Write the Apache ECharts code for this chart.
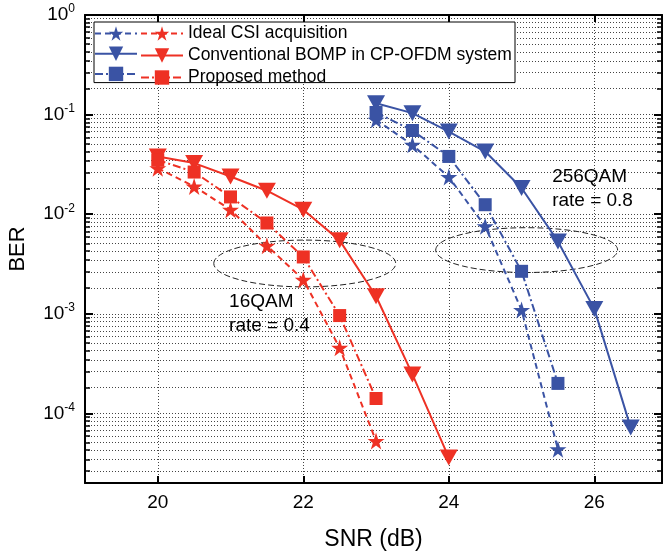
<!DOCTYPE html>
<html>
<head>
<meta charset="utf-8">
<script src="https://cdn.jsdelivr.net/npm/echarts@6/dist/echarts.min.js"></script>
<style>
html, body { margin: 0; padding: 0; background: #fff; }
#ber { width: 664px; height: 554px; }
</style>
</head>
<body>
<div id="ber"></div>
<script>
// SNR values (dB)
var snr16 = [20, 20.5, 21, 21.5, 22, 22.5, 23, 23.5, 24];
var snr256 = [23, 23.5, 24, 24.5, 25, 25.5, 26, 26.5];
var xTicks = [20, 22, 24, 26];
var berRange = [2e-5, 1];

// 16QAM, rate = 0.4
var ideal16 = [0.029, 0.019, 0.0111, 0.00483, 0.0022, 0.000455, 0.0000528];
var bomp16 = [0.038, 0.0326, 0.0239, 0.0172, 0.0111, 0.00546, 0.0015, 0.000246, 0.000036];
var prop16 = [0.035, 0.0265, 0.0149, 0.00816, 0.00372, 0.00096, 0.000141];

// 256QAM, rate = 0.8
var ideal256 = [0.0886, 0.0497, 0.0236, 0.00755, 0.00109, 0.0000436];
var bomp256 = [0.130, 0.1034, 0.0676, 0.0426, 0.0183, 0.00533, 0.00112, 0.000072];
var prop256 = [0.105, 0.0692, 0.038, 0.01245, 0.00267, 0.0002];

var names = ["Ideal CSI acquisition", "Conventional BOMP in CP-OFDM system", "Proposed method"];
var namesBlue = names.map(function (n) { return n + " (256QAM)"; });

var BLUE = "#3a53a4";
var RED = "#ee3124";
var FONT = "Liberation Sans";
var STAR = "path://M50 0 L61.23 34.55 L97.55 34.55 L68.16 55.9 L79.39 90.45 L50 69.1 L20.61 90.45 L31.84 55.9 L2.45 34.55 L38.77 34.55 Z";

var dotted = { color: "#444", width: 1, type: [1, 2] };

function pairs(xs, ys) {
  return ys.map(function (y, i) { return [xs[i], y]; });
}

function line(name, xs, ys, color, kind) {
  var s = {
    name: name,
    type: "line",
    data: pairs(xs, ys),
    lineStyle: { color: color, width: 2 },
    itemStyle: { color: color },
    emphasis: { disabled: true },
    animation: false,
    z: 3
  };
  if (kind == 0) {
    s.symbol = STAR; s.symbolSize = 17; s.lineStyle.type = [6, 4];
  } else if (kind == 1) {
    s.symbol = "triangle"; s.symbolRotate = 180; s.symbolSize = [18, 16]; s.lineStyle.type = "solid";
  } else {
    s.symbol = "rect"; s.symbolSize = 13; s.lineStyle.type = [8, 3, 2, 3];
  }
  return s;
}

function supLabel(v) {
  var l = Math.log10(v);
  var e = Math.round(l);
  if (Math.abs(l - e) > 1e-6) return "";
  return "{b|10}{s|" + e + "}";
}

var chart = echarts.init(document.getElementById("ber"));
var option = {
  animation: false,
  textStyle: { fontFamily: FONT },
  grid: { left: 85, right: 2, top: 15, bottom: 71, outerBoundsMode: "none" },
  legend: [
    {
      data: namesBlue,
      orient: "vertical",
      left: 94, top: 22,
      itemWidth: 42, itemHeight: 18, itemGap: 4,
      padding: [2.5, 377, 1.5, 0],
      formatter: function () { return ""; },
      backgroundColor: "#fff",
      borderColor: "#000", borderWidth: 1, borderRadius: 0,
      selectedMode: false,
      z: 5
    },
    {
      data: names,
      orient: "vertical",
      left: 140, top: 24.5,
      itemWidth: 42, itemHeight: 18, itemGap: 4,
      padding: 0,
      textStyle: { fontSize: 17.5, lineHeight: 18, color: "#000", fontFamily: FONT },
      selectedMode: false,
      z: 6
    }
  ],
  xAxis: [
    {
      type: "value", min: 19, max: 26.93, position: "bottom",
      name: "SNR (dB)", nameLocation: "middle", nameGap: 45,
      nameTextStyle: { fontSize: 23, color: "#000", fontFamily: FONT },
      axisLine: { lineStyle: { color: "#000", width: 2 } },
      axisTick: { inside: true, length: 7, lineStyle: { color: "#000", width: 2 }, customValues: xTicks.slice() },
      axisLabel: { fontSize: 19, color: "#000", margin: 10, customValues: xTicks.slice() },
      splitLine: { show: false }
    },
    {
      type: "value", min: 19, max: 26.93, position: "top",
      axisLine: { lineStyle: { color: "#000", width: 2 } },
      axisTick: { inside: true, length: 7, lineStyle: { color: "#000", width: 2 }, customValues: xTicks.slice() },
      axisLabel: { show: false },
      splitLine: { show: false }
    },
    {
      // hidden axis, only for the vertical grid: lines at 19..26, odd ones transparent
      type: "value", min: 19, max: 26.93, interval: 1, position: "bottom",
      axisLine: { show: false },
      axisTick: { show: false },
      axisLabel: { show: false },
      splitLine: {
        show: true, showMinLine: true,
        lineStyle: { color: ["rgba(0,0,0,0)", "#444"], width: 1, type: [1, 2] }
      }
    }
  ],
  yAxis: [
    {
      type: "log", logBase: 10, min: berRange[0], max: berRange[1], position: "left",
      name: "BER", nameLocation: "middle", nameGap: 56,
      nameTextStyle: { fontSize: 22, color: "#000", fontFamily: FONT },
      axisLine: { show: true, lineStyle: { color: "#000", width: 2 } },
      axisTick: { show: true, inside: true, length: 8, lineStyle: { color: "#000", width: 2 } },
      minorTick: { show: true, splitNumber: 11, length: 5, lineStyle: { color: "#000", width: 1.5 } },
      axisLabel: {
        formatter: supLabel, margin: 10, color: "#000",
        rich: {
          b: { fontSize: 19, color: "#000", fontFamily: FONT },
          s: { fontSize: 12, color: "#000", fontFamily: FONT, padding: [0, 0, 12, 0] }
        }
      },
      splitLine: { show: true, lineStyle: dotted },
      minorSplitLine: { show: true, lineStyle: dotted }
    },
    {
      type: "log", logBase: 10, min: berRange[0], max: berRange[1], position: "right",
      axisLine: { show: true, lineStyle: { color: "#000", width: 2 } },
      axisTick: { show: true, inside: true, length: 8, lineStyle: { color: "#000", width: 2 } },
      minorTick: { show: true, splitNumber: 11, length: 5, lineStyle: { color: "#000", width: 1.5 } },
      axisLabel: { show: false },
      splitLine: { show: false },
      minorSplitLine: { show: false }
    }
  ],
  series: [
    line(names[0], snr16, ideal16, RED, 0),
    line(names[1], snr16, bomp16, RED, 1),
    line(names[2], snr16, prop16, RED, 2),
    line(namesBlue[0], snr256, ideal256, BLUE, 0),
    line(namesBlue[1], snr256, bomp256, BLUE, 1),
    line(namesBlue[2], snr256, prop256, BLUE, 2)
  ]
};
chart.setOption(option);

// dashed ellipses and scheme labels, placed through the axes
function px(x, y) {
  return chart.convertToPixel({ xAxisIndex: 0, yAxisIndex: 0 }, [x, y]);
}
function ellipse(cx, cy, dx, dDec) {
  var c = px(cx, cy);
  var e = px(cx + dx, cy * Math.pow(10, dDec));
  return {
    type: "ellipse", z: 3, silent: true,
    shape: { cx: c[0], cy: c[1], rx: e[0] - c[0], ry: c[1] - e[1] },
    style: { fill: null, stroke: "#222", lineWidth: 1, lineDash: [6, 3] }
  };
}
function note(x, y, txt) {
  var p = px(x, y);
  return {
    type: "text", z: 4, x: p[0], y: p[1], silent: true,
    style: { text: txt, fill: "#000", font: "19px " + FONT, lineHeight: 24, textAlign: "left", textVerticalAlign: "top" }
  };
}
chart.setOption({
  graphic: [
    ellipse(22.02, 3.2e-3, 1.25, 0.235),
    ellipse(25.07, 4.36e-3, 1.25, 0.225),
    note(20.98, 1.73e-3, "16QAM\nrate = 0.4"),
    note(25.42, 0.0313, "256QAM\nrate = 0.8")
  ]
});
</script>
</body>
</html>
